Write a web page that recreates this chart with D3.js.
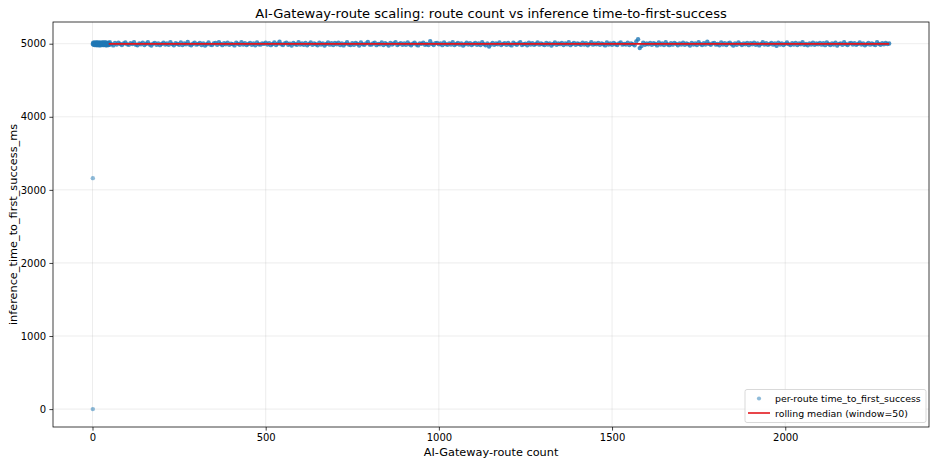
<!DOCTYPE html>
<html><head><meta charset="utf-8">
<script src="https://cdn.jsdelivr.net/npm/d3@7"></script>
<style>body{margin:0;background:#fff} svg{font-family:"DejaVu Sans",sans-serif;display:block}</style>
</head><body>
<svg id="c" width="936" height="464"></svg>
<script>
// ---- data ----
const title = "AI-Gateway-route scaling: route count vs inference time-to-first-success";
const xLabel = "AI-Gateway-route count";
const yLabel = "inference_time_to_first_success_ms";
const xTicks = [0, 500, 1000, 1500, 2000];
const yTicks = [0, 1000, 2000, 3000, 4000, 5000];

// first routes (dense cluster, route count 1..49)
const earlyRoutes = [1, 1, 1, 2, 3, 4, 6, 7, 8, 9, 11, 12, 13, 14, 16, 17, 18, 19, 21, 22, 23, 24, 26, 27, 28, 29, 31, 32, 33, 34, 36, 37, 38, 39, 41, 42, 43, 44, 46, 47, 48, 49];
const earlyMs = [3160, 0, 4996, 5014, 4985, 4999, 5017, 4980, 5008, 4993, 4984, 5020, 4978, 5007, 5012, 4983, 5016, 4981, 4999, 4990, 5018, 4979, 5007, 5011, 4984, 5015, 4980, 4998, 5013, 4982, 4996, 5019, 4983, 5004, 4977, 4997, 5014, 4989, 4981, 5012, 4998, 4986];

// per-route time_to_first_success, one value every 5 routes (route 5 .. 2300)
const bandRouteStart = 5, bandRouteStep = 5;
const bandMs = [
5012,4985,5003,4979,4998,5017,4990,4982,5006,5020,4994,4977,5009,4988,5014,4996,4981,5002,5016,4991,
4984,5008,4995,5021,4987,4978,5004,4993,5015,4983,4999,5019,4989,4976,5001,5011,4986,5005,4980,4997,
5013,4990,5002,4984,5022,4994,4979,5007,4997,4986,5018,4982,5003,4992,5024,4989,4978,5000,5014,4987,
4996,5010,4983,5005,4975,4993,5016,4988,4981,5002,5009,4985,5020,4995,4980,5006,4991,5013,4984,5001,
4994,4977,5015,4998,4986,5021,4990,5006,4982,4995,5011,4984,5003,4978,5018,4993,4987,5005,4997,5014,
4989,5007,4980,4996,5017,4983,5001,5026,4992,4981,5005,5015,4986,4999,4976,5010,4994,4985,5019,4990,
5002,4986,5009,4978,4997,5018,4984,5005,4993,4979,5013,4990,5003,4974,4995,5016,4987,5006,4982,5010,
4993,5015,4983,5002,4977,4998,5020,4989,4981,5006,4986,5011,4996,4976,5017,4992,4984,5005,5023,4990,
4987,5003,5014,4980,4997,4991,5016,4983,5006,4994,4975,5010,4989,5002,5019,4981,4996,5008,4986,5004,
4984,5018,4993,4979,5001,5013,4990,4977,5005,4998,5015,4986,4995,4982,5034,4997,4983,5006,5010,4991,
5003,4980,5016,4994,4984,5005,4989,5020,4981,4996,5009,4987,5002,4976,4993,5014,4990,5006,4982,4997,
5012,4986,5003,4983,5019,4994,4978,5005,4962,4990,5011,4984,5002,4993,5016,4981,4997,5007,4986,5009,
4990,4977,5014,4997,4985,5004,5021,4983,4994,5001,4979,5013,4990,5006,4984,4996,5018,4987,5002,4993,
4981,5010,4989,5005,4975,4996,5016,4986,5003,4994,5009,4983,5005,4991,5020,4980,4997,5012,4986,5003,
4995,4984,5015,4990,5006,4978,4997,5019,4987,5002,4991,5010,4984,5005,4993,4977,5016,4989,5003,4984,
5009,4993,4981,5005,5018,4987,4998,4990,5013,4983,5002,4994,4979,5030,5060,4940,4968,5015,4986,5003,
4991,5011,4984,5006,4995,4977,5017,4989,5004,4983,5021,4993,4980,5007,4987,5012,4998,4978,5005,4990,
5014,4986,5005,4993,4974,5010,4988,5003,4982,5019,4995,4981,5006,4990,5026,4997,4984,5004,5011,4987,
4996,4978,5016,4989,5006,4983,5002,5013,4992,4976,5005,4985,5018,4997,4982,5003,4991,5010,4980,5006,
4993,5015,4986,5003,4977,4997,5020,4989,5006,4984,4995,5009,4987,5002,4973,5013,4990,5005,4982,4998,
5017,4994,4981,5006,4988,5011,4983,5003,4993,5022,4986,4997,4978,5005,4990,5015,4984,5002,4993,5010,
4987,5006,4980,5018,4995,4983,5003,4990,5013,4976,4998,5005,4986,5021,4994,4981,5002,5011,4989,5006,
4984,4997,5016,4990,5004,4978,4994,5012,4987,5005,4993,4983,5019,4998,4986,5006,4991,5010,4995,5002
];

// rolling median (window=50)
const medianRoutes = [47, 100, 200, 300, 400, 500, 600, 700, 800, 900, 1000, 1100, 1200, 1300, 1400, 1500, 1600, 1700, 1800, 1900, 2000, 2100, 2200, 2300];
const medianMs = [4997, 4997, 4998, 4997, 4997, 4998, 4997, 4997, 4998, 4997, 4997, 4997, 4998, 4997, 4997, 4998, 4997, 4997, 4998, 4997, 4997, 4998, 4997, 4997];

const legendLabels = ["per-route time_to_first_success", "rolling median (window=50)"];

// ---- chart ----
const L = 53, R = 929, T = 22, B = 427;
const svg = d3.select("#c");
const x = d3.scaleLinear().domain([-114, 2415]).range([L, R]);
const y = d3.scaleLinear().domain([-245, 5297]).range([B, T]);

// grid
const g = svg.append("g");
g.selectAll("line.gx").data(xTicks).join("line")
  .attr("x1", d => x(d)).attr("x2", d => x(d)).attr("y1", T).attr("y2", B)
  .attr("stroke", "#b0b0b0").attr("stroke-opacity", 0.3).attr("stroke-width", 0.75);
g.selectAll("line.gy").data(yTicks).join("line")
  .attr("y1", d => y(d)).attr("y2", d => y(d)).attr("x1", L).attr("x2", R)
  .attr("stroke", "#b0b0b0").attr("stroke-opacity", 0.3).attr("stroke-width", 0.75);

// points (each sampled band point stands for ~5 overlapping routes -> denser shade)
const pts = earlyRoutes.map((r, i) => [r, earlyMs[i]])
  .concat(bandMs.map((v, i) => [bandRouteStart + i * bandRouteStep, v]));
svg.append("clipPath").attr("id", "clip").append("rect")
  .attr("x", L).attr("y", T).attr("width", R - L).attr("height", B - T);
const plot = svg.append("g").attr("clip-path", "url(#clip)");
plot.selectAll("circle").data(pts).join("circle")
  .attr("cx", d => x(d[0])).attr("cy", d => y(d[1])).attr("r", 2.2)
  .attr("fill", "#1f77b4").attr("fill-opacity", d => d[1] > 4500 ? 0.8 : 0.5);

// rolling median
plot.append("path")
  .datum(medianRoutes.map((r, i) => [r, medianMs[i]]))
  .attr("d", d3.line().x(d => x(d[0])).y(d => y(d[1])))
  .attr("fill", "none").attr("stroke", "#e3161c").attr("stroke-width", 1.7);

// axes
const fs = 10;
const ax = svg.append("g").attr("transform", `translate(0,${B})`)
  .call(d3.axisBottom(x).tickValues(xTicks).tickFormat(d3.format("d")).tickSize(3.6).tickPadding(3.2));
const ay = svg.append("g").attr("transform", `translate(${L},0)`)
  .call(d3.axisLeft(y).tickValues(yTicks).tickFormat(d3.format("d")).tickSize(3.6).tickPadding(3.2));
[ax, ay].forEach(a => {
  a.select(".domain").remove();
  a.selectAll("line").attr("stroke", "#000").attr("stroke-width", 0.75);
  a.selectAll("text").attr("font-size", fs).attr("fill", "#000").attr("font-family", "DejaVu Sans");
});

// spines
svg.append("rect").attr("x", L).attr("y", T).attr("width", R - L).attr("height", B - T)
  .attr("fill", "none").attr("stroke", "#000").attr("stroke-width", 0.75);

// labels
svg.append("text").attr("x", (L + R) / 2).attr("y", 17.5).attr("text-anchor", "middle")
  .attr("font-size", 13.1).text(title);
svg.append("text").attr("x", (L + R) / 2).attr("y", 455.5).attr("text-anchor", "middle")
  .attr("font-size", 11.3).text(xLabel);
svg.append("text").attr("transform", `translate(16.5,${(T + B) / 2}) rotate(-90)`).attr("text-anchor", "middle")
  .attr("font-size", 11.3).text(yLabel);

// legend
const lg = svg.append("g");
lg.append("rect").attr("x", 745).attr("y", 389.5).attr("width", 181).attr("height", 33).attr("rx", 2)
  .attr("fill", "#fff").attr("fill-opacity", 0.8).attr("stroke", "#cccccc").attr("stroke-width", 0.75);
lg.append("circle").attr("cx", 759).attr("cy", 398.5).attr("r", 2.1).attr("fill", "#1f77b4").attr("fill-opacity", 0.5);
lg.append("line").attr("x1", 748).attr("x2", 770).attr("y1", 413).attr("y2", 413)
  .attr("stroke", "#e3161c").attr("stroke-width", 1.6);
lg.selectAll("text.l").data(legendLabels).join("text")
  .attr("x", 775).attr("y", (d, i) => 402 + i * 14.7).attr("font-size", 9.4).text(d => d);
</script>
</body></html>
